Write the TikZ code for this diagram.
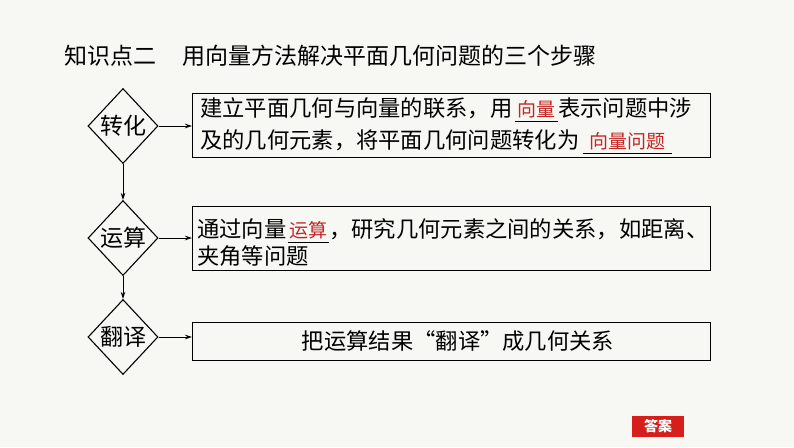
\documentclass[tikz,border=0pt]{standalone}
\usepackage{fontspec}
\setmainfont{Noto Sans CJK SC}
\usetikzlibrary{shapes.geometric,arrows.meta}
\definecolor{bg}{RGB}{247,248,243}
\definecolor{ansred}{RGB}{214,30,26}
\definecolor{fillred}{RGB}{196,38,38}
\tikzset{
  txt/.style={inner sep=0pt, font=\fontsize{22.3}{24}\selectfont},
  rtxt/.style={inner sep=0pt, text=fillred, font=\fontsize{19}{20}\selectfont},
  stepbox/.style={draw, line width=1.3pt, minimum width=518pt, inner sep=0pt},
  dia/.style={draw, diamond, line width=1.1pt, minimum width=70pt, minimum height=75pt, inner sep=0pt, font=\fontsize{23}{24}\selectfont},
  conn/.style={-{Stealth[length=7pt,width=4.5pt]}, line width=0.8pt},
  uline/.style={line width=0.9pt}
}
\begin{document}
\begin{tikzpicture}[x=1pt,y=-1pt]
\fill[bg] (0,0) rectangle (794,447);
\useasboundingbox (0,0) rectangle (794,447);

% title
\node[anchor=west, inner sep=0pt, font=\fontsize{23}{24}\selectfont] (title) at (64,56)
  {知识点二\hspace{1.15em}用向量方法解决平面几何问题的三个步骤};

% diamonds
\node[dia] (d1) at (123,126) {转化};
\node[dia] (d2) at (123,238) {运算};
\node[dia] (d3) at (123,337) {翻译};

% boxes
\node[stepbox, minimum height=64pt, anchor=north west] (b1) at (192,93) {};
\node[stepbox, minimum height=64pt, anchor=north west] (b2) at (192,206) {};
\node[stepbox, minimum height=38pt, anchor=north west] (b3) at (192,322) {};

% connectors
\draw[conn] (d1.east) -- (d1.east -| b1.west);
\draw[conn] (d2.east) -- (d2.east -| b2.west);
\draw[conn] (d3.east) -- (d3.east -| b3.west);
\draw[conn] (d1.south) -- (d2.north);
\draw[conn] (d2.south) -- (d3.north);

% box 1 text
\node[txt, anchor=west] (l1a) at (200,108) {建立平面几何与向量的联系，用};
\node[rtxt, anchor=base west, minimum width=43pt] (u1) at ([xshift=2pt]l1a.base east) {向量};
\draw[uline] ([yshift=-5pt]u1.base west) -- ([yshift=-5pt]u1.base east);
\node[txt, anchor=base west] (l1b) at (u1.base east) {表示问题中涉};
\node[txt, anchor=west] (l2a) at (200,140) {及的几何元素，将平面几何问题转化为};
\node[rtxt, anchor=base west, minimum width=89pt] (u2) at ([xshift=3pt]l2a.base east) {向量问题};
\draw[uline] ([yshift=-5pt]u2.base west) -- ([yshift=-5pt]u2.base east);

% box 2 text
\node[txt, anchor=west] (l3a) at (197,229) {通过向量};
\node[rtxt, anchor=base west, minimum width=41pt] (u3) at ([xshift=1pt]l3a.base east) {运算};
\draw[uline] ([yshift=-5pt]u3.base west) -- ([yshift=-5pt]u3.base east);
\node[txt, anchor=base west] (l3b) at (u3.base east) {，研究几何元素之间的关系，如距离、};
\node[txt, anchor=west] (l4a) at (197,256) {夹角等问题};

% box 3 text
\node[txt] (l5) at (458,341) {把运算结果“翻译”成几何关系};

% answer button
\node[fill=ansred, text=white, inner sep=0pt, minimum width=52pt, minimum height=21pt,
      font=\fontsize{14}{16}\selectfont\bfseries] (ans) at (658,426.5) {答案};
\end{tikzpicture}
\end{document}
